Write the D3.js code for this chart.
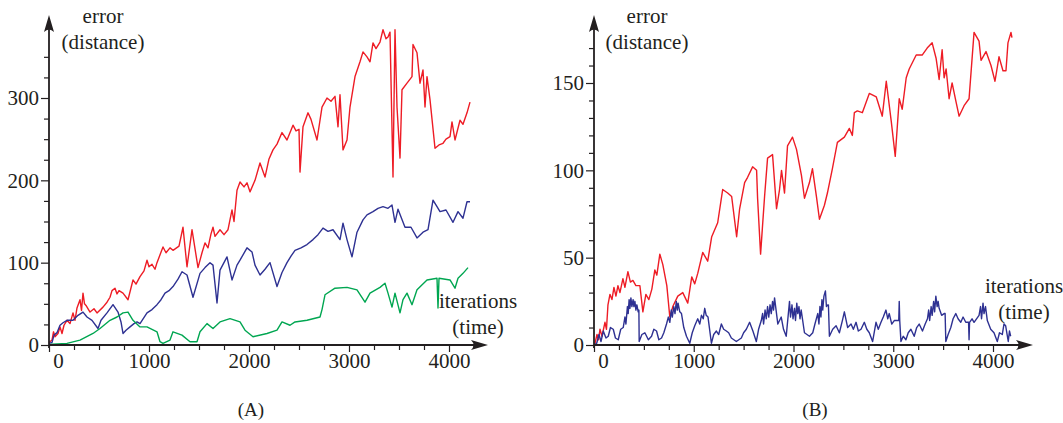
<!DOCTYPE html>
<html>
<head>
<meta charset="utf-8">
<script src="https://cdn.jsdelivr.net/npm/d3@7"></script>
<style>
  body { margin: 0; background: #ffffff; }
  text { font-family: "Liberation Serif", "Times New Roman", serif; fill: #231f20; }
</style>
</head>
<body>
<div id="drawing"></div>
<script>
 var width = 1063;
 var height = 423;

 // ---- data: [iteration, error] ----
 var redA = [[0,3],[30,6],[45,16],[60,10],[90,14],[110,22],[130,14],[150,24],[180,30],[210,26],[240,39],[260,30],[280,45],[310,55],[325,42],[340,63],[355,50],[370,48],[410,40],[450,44],[480,39],[540,46],[580,52],[610,58],[630,66],[660,69],[680,62],[700,66],[740,63],[790,55],[840,79],[870,74],[910,83],[950,90],[980,103],[1000,95],[1030,98],[1060,92],[1080,100],[1140,119],[1170,112],[1210,118],[1240,115],[1300,120],[1340,143],[1380,95],[1430,140],[1490,94],[1530,112],[1560,124],[1590,118],[1620,135],[1640,143],[1660,132],[1710,140],[1750,134],[1790,140],[1830,164],[1850,150],[1880,188],[1910,198],[1950,192],[1980,197],[2010,186],[2060,200],[2110,221],[2160,204],[2200,226],[2240,237],[2280,244],[2330,258],[2380,249],[2440,267],[2470,260],[2500,262],[2510,210],[2540,265],[2590,282],[2620,274],[2680,249],[2730,289],[2780,300],[2820,296],[2860,302],[2890,265],[2910,304],[2940,237],[2980,249],[3010,289],[3060,326],[3110,344],[3140,356],[3180,350],[3210,344],[3240,367],[3270,360],[3310,368],[3340,383],[3370,372],[3390,374],[3410,380],[3440,204],[3460,383],[3480,289],[3510,227],[3530,310],[3580,318],[3630,326],[3640,365],[3680,355],[3710,318],[3740,334],[3760,289],[3780,326],[3810,298],[3860,239],[3900,243],[3940,245],[3970,250],[4010,253],[4030,271],[4060,249],[4110,273],[4140,268],[4180,282],[4210,295]];
 var blueA = [[0,2],[30,3],[50,12],[80,15],[110,24],[140,27],[180,30],[240,30],[290,36],[340,40],[380,34],[430,30],[490,20],[520,30],[580,39],[640,49],[690,40],[720,28],[740,14],[770,18],[810,22],[850,26],[880,28],[910,26],[980,39],[1030,43],[1080,49],[1120,55],[1160,63],[1200,66],[1240,71],[1290,80],[1330,89],[1380,85],[1440,58],[1510,87],[1560,94],[1610,100],[1640,97],[1680,51],[1710,91],[1780,107],[1830,79],[1880,97],[1910,103],[1980,118],[2030,113],[2060,97],[2110,85],[2160,92],[2210,100],[2280,71],[2330,88],[2380,100],[2420,108],[2460,115],[2520,118],[2580,122],[2640,128],[2690,134],[2740,142],[2790,138],[2840,140],[2910,128],[2940,148],[2980,128],[3030,107],[3080,137],[3140,152],[3180,158],[3240,162],[3290,166],[3340,168],[3390,166],[3430,170],[3460,149],[3490,165],[3560,143],[3620,143],[3680,130],[3740,137],[3790,140],[3840,176],[3880,168],[3910,162],[3970,164],[4040,149],[4090,162],[4140,154],[4180,174],[4210,174]];
 var greenA = [[0,0],[30,1],[180,2],[310,6],[440,14],[510,20],[610,30],[680,34],[740,39],[790,40],[840,30],[910,22],[980,22],[1080,16],[1110,4],[1140,2],[1210,6],[1240,16],[1330,12],[1410,4],[1480,4],[1510,16],[1580,26],[1640,20],[1710,28],[1810,32],[1910,28],[1960,18],[2040,10],[2180,14],[2280,18],[2330,28],[2410,24],[2460,28],[2580,30],[2710,34],[2730,43],[2760,61],[2860,69],[2980,70],[3080,67],[3160,52],[3210,63],[3310,70],[3360,75],[3390,63],[3430,46],[3460,63],[3510,39],[3540,55],[3580,63],[3630,49],[3680,67],[3780,79],[3880,81],[3890,45],[3900,81],[4010,79],[4060,69],[4090,81],[4140,87],[4190,94]];

 var redB = [[0,0],[10,1],[30,6],[45,3],[60,9],[80,5],[110,13],[125,9],[140,23],[160,29],[180,26],[200,33],[220,28],[240,34],[260,30],[290,38],[310,33],[340,42],[365,36],[390,37],[420,34],[460,34],[490,19],[520,29],[550,26],[580,32],[610,43],[630,40],[660,52],[690,46],[730,34],[760,16],[790,22],[840,28],[890,30],[940,24],[980,39],[1010,35],[1040,41],[1090,53],[1140,48],[1180,62],[1240,70],[1290,89],[1340,87],[1380,85],[1430,62],[1460,78],[1510,93],[1540,96],[1590,102],[1630,100],[1640,84],[1670,52],[1710,85],[1740,107],[1790,109],[1830,78],[1860,89],[1880,100],[1910,87],[1940,114],[1990,119],[2030,112],[2080,97],[2110,84],[2160,93],[2190,101],[2230,85],[2260,72],[2310,80],[2340,87],[2390,101],[2440,116],[2510,119],[2560,124],[2590,120],[2610,133],[2640,134],[2690,133],[2760,144],[2830,142],[2890,131],[2930,151],[2980,128],[3020,108],[3060,141],[3090,135],[3130,153],[3160,158],[3230,166],[3290,166],[3340,170],[3390,173],[3430,164],[3460,152],[3490,169],[3510,153],[3530,158],[3560,141],[3590,150],[3630,139],[3660,131],[3710,137],[3760,141],[3810,179],[3860,174],[3880,163],[3930,168],[3980,160],[4020,151],[4060,165],[4100,157],[4130,157],[4150,173],[4180,179],[4190,176]];
 var blueB = [[0,0],[27,1],[50,6],[70,2],[93,8],[120,4],[143,5],[165,10],[193,9],[215,4],[243,3],[268,9],[293,10],[310,16],[320,12],[335,22],[343,18],[352,26],[360,21],[370,27],[380,22],[392,26],[400,22],[410,25],[420,20],[430,23],[443,19],[450,20],[453,2],[480,6],[510,7],[545,3],[577,5],[600,9],[627,8],[650,3],[677,4],[700,7],[727,12],[745,16],[760,13],[775,20],[785,16],[800,22],[812,18],[825,25],[835,20],[843,24],[860,19],[877,18],[900,10],[927,5],[960,1],[985,7],[1010,11],[1040,15],[1060,12],[1077,17],[1095,15],[1110,21],[1125,17],[1143,16],[1177,1],[1200,6],[1227,8],[1250,6],[1277,12],[1300,9],[1327,8],[1350,7],[1377,4],[1427,2],[1477,4],[1500,7],[1527,9],[1560,13],[1593,8],[1627,2],[1650,9],[1677,14],[1690,18],[1700,12],[1715,20],[1727,15],[1740,22],[1752,16],[1765,23],[1777,18],[1790,25],[1800,20],[1810,27],[1843,12],[1877,16],[1900,9],[1927,5],[1960,25],[1970,16],[1985,23],[1995,15],[2010,21],[2020,14],[2033,24],[2043,18],[2055,22],[2065,15],[2077,20],[2110,7],[2160,5],[2193,7],[2215,12],[2243,18],[2255,12],[2265,22],[2275,16],[2285,26],[2293,20],[2305,28],[2320,31],[2330,22],[2343,23],[2350,23],[2360,5],[2393,9],[2427,11],[2460,7],[2490,14],[2510,19],[2543,10],[2577,12],[2600,9],[2627,13],[2650,8],[2677,9],[2710,13],[2735,9],[2760,7],[2793,2],[2827,13],[2850,9],[2877,13],[2900,16],[2927,20],[2945,15],[2960,18],[2985,12],[3010,14],[3055,14],[3060,25],[3065,14],[3077,2],[3100,5],[3127,3],[3150,7],[3177,9],[3210,5],[3235,10],[3260,12],[3293,8],[3320,12],[3343,15],[3355,20],[3365,14],[3380,22],[3390,17],[3405,25],[3415,19],[3427,28],[3440,22],[3450,25],[3460,21],[3485,17],[3510,18],[3520,18],[3527,2],[3550,6],[3577,10],[3600,15],[3627,18],[3650,15],[3677,13],[3700,16],[3727,13],[3755,13],[3760,3],[3765,13],[3790,15],[3810,13],[3860,17],[3875,22],[3885,15],[3900,24],[3910,18],[3925,22],[3943,14],[3977,9],[4010,7],[4043,2],[4065,7],[4093,6],[4110,12],[4127,11],[4153,2],[4165,8],[4177,5]];

 // ticks
 var xMajor = [0, 1000, 2000, 3000, 4000];
 var xMinor = [250, 500, 750, 1250, 1500, 1750, 2250, 2500, 2750, 3250, 3500, 3750];
 var yMajorA = [0, 100, 200, 300];
 var yMinorA = [25, 50, 75, 125, 150, 175, 225, 250, 275, 325, 350];
 var yMajorB = [0, 50, 100, 150];
 var yMinorB = [10, 20, 30, 40, 60, 70, 80, 90, 110, 120, 130, 140, 160, 170];

 var ink = "#231f20";
 var red = "#ee1c25";
 var blue = "#2e3192";
 var green = "#00a651";

 var drawing = d3.select("#drawing").append("svg")
   .attr("width", width)
   .attr("height", height)
   .style("background", "#ffffff");

 // draws one panel: axes with arrows, labels, lines
 function panel(opts) {
   var xScale = d3.scaleLinear().domain([0, 4000]).range(opts.xRange);
   var yScale = d3.scaleLinear().domain(opts.yDomain).range([345, opts.yTop]);
   var g = drawing.append("g");
   var x0 = xScale(0), y0 = yScale(0);

   // minor ticks
   g.append("g")
     .attr("transform", `translate(0, ${y0})`)
     .call(d3.axisBottom(xScale).tickValues(xMinor).tickSize(5).tickFormat(""));
   g.append("g")
     .attr("transform", `translate(${x0}, 0)`)
     .call(d3.axisLeft(yScale).tickValues(opts.yMinor).tickSize(5).tickFormat(""));

   // major ticks
   var xa = g.append("g")
     .attr("transform", `translate(0, ${y0})`)
     .call(d3.axisBottom(xScale).tickValues(xMajor).tickSize(7).tickPadding(1).tickFormat(d3.format("d")));
   xa.selectAll(".tick text").filter((d) => d === 0).attr("dx", 9);
   g.append("g")
     .attr("transform", `translate(${x0}, 0)`)
     .call(d3.axisLeft(yScale).tickValues(opts.yMajor).tickSize(8).tickPadding(2).tickFormat(d3.format("d")));

   g.selectAll(".domain").remove();
   g.selectAll(".tick line").attr("stroke", ink).attr("stroke-width", 1.2);
   g.selectAll(".tick text")
     .attr("font-family", "Liberation Serif, serif")
     .attr("font-size", 21)
     .attr("fill", ink);

   // data lines
   var lineGenerator = d3.line()
     .x((d) => xScale(d[0]))
     .y((d) => yScale(d[1]));
   opts.series.forEach(function(s) {
     g.append("path")
       .attr("d", lineGenerator(s.data))
       .style("fill", "none")
       .style("stroke", s.color)
       .style("stroke-width", 1.4)
       .style("stroke-linejoin", "round");
   });

   // axis lines with arrow heads
   g.append("line")
     .attr("x1", x0).attr("x2", opts.xEnd - 8)
     .attr("y1", y0).attr("y2", y0)
     .attr("stroke", ink).attr("stroke-width", 1.8);
   g.append("line")
     .attr("x1", x0).attr("x2", x0)
     .attr("y1", y0 + 3).attr("y2", 25)
     .attr("stroke", ink).attr("stroke-width", 1.8);
   var xe = opts.xEnd;
   g.append("path")
     .attr("d", `M${xe},${y0} L${xe - 17},${y0 - 5} Q${xe - 12},${y0} ${xe - 17},${y0 + 5} Z`)
     .attr("fill", ink);
   g.append("path")
     .attr("d", `M${x0},15 L${x0 + 5},32 Q${x0},27 ${x0 - 5},32 Z`)
     .attr("fill", ink);

   // axis titles
   g.append("text").attr("x", opts.yTitleX).attr("y", 23)
     .attr("text-anchor", "middle").attr("font-size", 21).text("error");
   g.append("text").attr("x", opts.yTitleX).attr("y", 49)
     .attr("text-anchor", "middle").attr("font-size", 21).text("(distance)");
   g.append("text").attr("x", opts.xTitleX).attr("y", opts.xTitleY)
     .attr("text-anchor", "middle").attr("font-size", 21).text("iterations");
   g.append("text").attr("x", opts.xTitleX).attr("y", opts.xTitleY + 26)
     .attr("text-anchor", "middle").attr("font-size", 21).text("(time)");

   // caption
   g.append("text").attr("x", opts.capX).attr("y", 416)
     .attr("text-anchor", "middle").attr("font-size", 19).text(opts.caption);
 }

 panel({
   xRange: [49, 449], xEnd: 488,
   yDomain: [0, 300], yTop: 98,
   yMajor: yMajorA, yMinor: yMinorA,
   yTitleX: 103, xTitleX: 478, xTitleY: 308,
   capX: 251, caption: "(A)",
   series: [{data: redA, color: red}, {data: blueA, color: blue}, {data: greenA, color: green}]
 });

 panel({
   xRange: [594, 993], xEnd: 1033,
   yDomain: [0, 150], yTop: 83,
   yMajor: yMajorB, yMinor: yMinorB,
   yTitleX: 647, xTitleX: 1024, xTitleY: 293,
   capX: 815, caption: "(B)",
   series: [{data: redB, color: red}, {data: blueB, color: blue}]
 });
</script>
</body>
</html>
